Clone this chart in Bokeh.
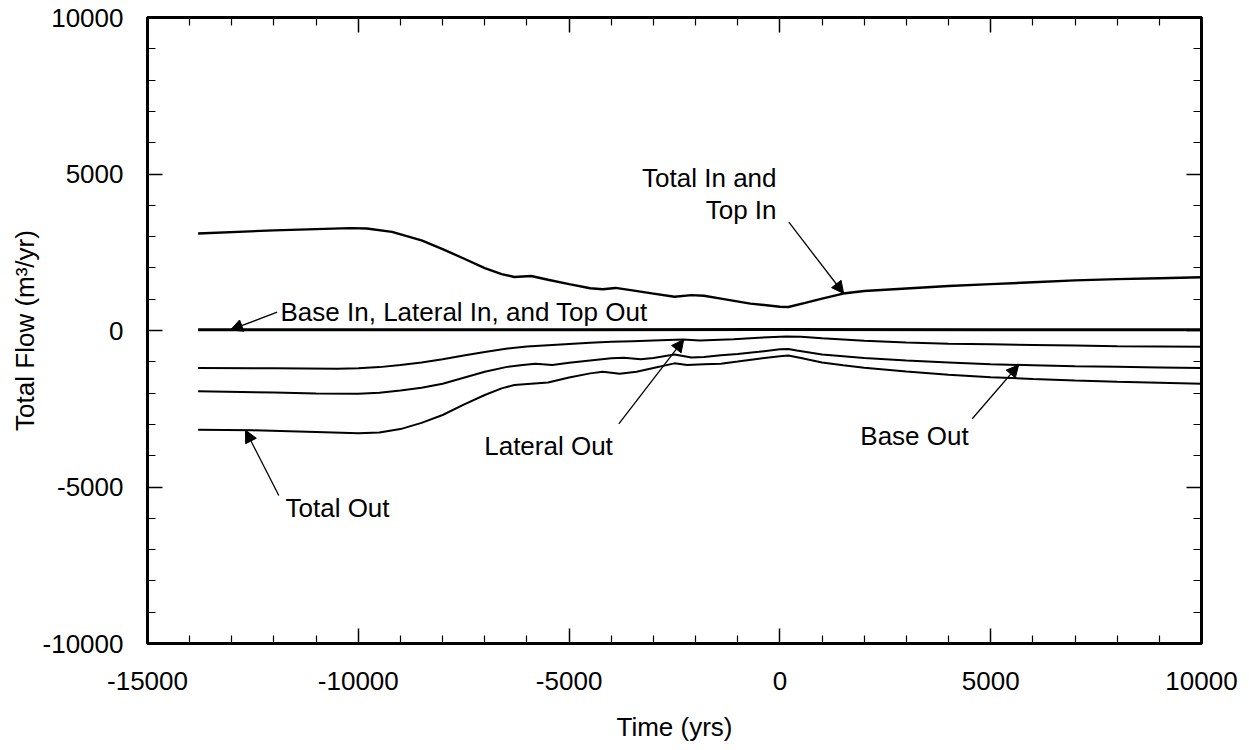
import numpy as np
from bokeh.plotting import figure
from bokeh.models import (Range1d, FixedTicker, LinearAxis, Label, Arrow, NormalHead,
                          CustomJSTickFormatter)
from bokeh.embed import file_html
from bokeh.resources import INLINE

# ---------------- data ----------------
t_in = [-13800, -12000, -11000, -10200, -9800, -9200, -8500, -8000, -7500, -7000,
        -6600, -6300, -5900, -5500, -5000, -4500, -4200, -3900, -3500, -3000,
        -2500, -2100, -1800, -1400, -700, 0, 200, 600, 1000, 1500,
        2000, 3000, 4000, 5000, 6000, 7000, 8000, 9000, 10000]
total_in = [3100, 3200, 3240, 3270, 3260, 3150, 2880, 2600, 2300, 1990,
            1800, 1710, 1740, 1620, 1480, 1350, 1320, 1360, 1280, 1180,
            1080, 1130, 1110, 1020, 860, 760, 750, 880, 1020, 1180,
            1260, 1340, 1420, 1480, 1540, 1600, 1640, 1670, 1700]

t_zero = [-13800, -10000, -5000, 0, 5000, 10000]
base_lat_in_top_out = [20, 20, 25, 30, 25, 20]

t_lat = [-13800, -12000, -10500, -10000, -9500, -9000, -8500, -8000, -7500, -7000,
         -6500, -6000, -5500, -5000, -4500, -4000, -3500, -3000, -2300, -1900,
         -1100, -500, 150, 500, 1000, 2000, 3000, 4000, 5000, 6000,
         7000, 8000, 9000, 10000]
lateral_out = [-1200, -1210, -1220, -1210, -1170, -1100, -1020, -920, -800, -690,
               -580, -510, -470, -430, -390, -360, -340, -320, -290, -320,
               -280, -230, -190, -200, -250, -330, -380, -420, -440, -460,
               -480, -500, -510, -520]

t_base = [-13800, -12000, -11000, -10000, -9500, -9000, -8500, -8000, -7500, -7000,
          -6500, -6100, -5800, -5400, -5000, -4500, -4000, -3700, -3300, -3000,
          -2500, -2100, -1800, -1400, -1000, -500, 0, 200, 400, 1000,
          2000, 3000, 4000, 5000, 6000, 7000, 8000, 9000, 10000]
base_out = [-1940, -1980, -2010, -2020, -1990, -1920, -1830, -1700, -1510, -1320,
            -1170, -1100, -1060, -1100, -1030, -960, -890, -870, -920, -880,
            -770, -860, -850, -790, -750, -680, -600, -590, -640, -770,
            -880, -960, -1020, -1080, -1110, -1140, -1160, -1180, -1200]

t_tot = [-13800, -12500, -11000, -10000, -9500, -9000, -8500, -8000, -7500, -7000,
         -6600, -6300, -5900, -5500, -5000, -4500, -4200, -3800, -3400, -3000,
         -2500, -2200, -1800, -1400, -1000, -500, 0, 200, 500, 1000,
         1500, 2000, 3000, 4000, 5000, 6000, 7000, 8000, 9000, 10000]
total_out = [-3170, -3190, -3240, -3280, -3260, -3150, -2950, -2700, -2370, -2060,
             -1850, -1740, -1700, -1660, -1500, -1370, -1320, -1380, -1320, -1200,
             -1050, -1100, -1080, -1060, -990, -900, -820, -800, -880, -1020,
             -1110, -1190, -1310, -1410, -1490, -1550, -1600, -1640, -1670, -1700]

x_ticks = [-15000, -10000, -5000, 0, 5000, 10000]
x_tick_labels = ["-15000", "-10000", "-5000", "0", "5000", "10000"]
y_ticks = [-10000, -5000, 0, 5000, 10000]
y_tick_labels = ["-10000", "-5000", "0", "5000", "10000"]

FONT = "Liberation Sans"
FS = "26px"

p = figure(width=1241, height=750, x_range=Range1d(-15000, 10000), y_range=Range1d(-10000, 10000),
           output_backend="svg", toolbar_location=None,
           min_border_left=147, min_border_right=40, min_border_top=17, min_border_bottom=107)
p.background_fill_color = "white"
p.border_fill_color = "white"
p.outline_line_color = "black"
p.outline_line_width = 3
p.xgrid.visible = False
p.ygrid.visible = False

x_minor = [v for v in range(-15000, 10001, 1000) if v not in x_ticks]
y_minor = [v for v in range(-10000, 10001, 1000) if v not in y_ticks]

def style_axis(ax, ticks, minor, labels, show_labels):
    ax.ticker = FixedTicker(ticks=ticks, minor_ticks=minor)
    ax.major_tick_in = 15
    ax.major_tick_out = 0
    ax.minor_tick_in = 8
    ax.minor_tick_out = 0
    ax.major_tick_line_width = 1.5
    ax.minor_tick_line_width = 1.2
    ax.major_tick_line_color = "black"
    ax.minor_tick_line_color = "black"
    ax.axis_line_width = 2.5
    ax.axis_line_color = "black"
    if show_labels:
        ax.major_label_overrides = {t: s for t, s in zip(ticks, labels)}
        ax.major_label_text_font = FONT
        ax.major_label_text_font_size = FS
        ax.major_label_text_color = "black"
        ax.axis_label_text_font = FONT
        ax.axis_label_text_font_size = FS
        ax.axis_label_text_font_style = "normal"
        ax.axis_label_text_color = "black"
    else:
        ax.formatter = CustomJSTickFormatter(code="return ''")
        ax.major_label_text_font_size = "8px"
        ax.major_label_standoff = 0

style_axis(p.xaxis[0], x_ticks, x_minor, x_tick_labels, True)
style_axis(p.yaxis[0], y_ticks, y_minor, y_tick_labels, True)
p.xaxis[0].major_label_standoff = 28
p.xaxis[0].axis_label = "Time (yrs)"
p.xaxis[0].axis_label_standoff = 19
p.yaxis[0].major_label_standoff = 24
p.yaxis[0].axis_label = "Total Flow (m\u00b3/yr)"
p.yaxis[0].axis_label_standoff = 0

top_ax = LinearAxis()
right_ax = LinearAxis()
style_axis(top_ax, x_ticks, x_minor, x_tick_labels, False)
style_axis(right_ax, y_ticks, y_minor, y_tick_labels, False)
p.add_layout(top_ax, "above")
p.add_layout(right_ax, "right")

# curves
p.line(t_in, total_in, line_color="black", line_width=2.4)
p.line(t_zero, base_lat_in_top_out, line_color="black", line_width=3)
p.line(t_lat, lateral_out, line_color="black", line_width=2)
p.line(t_base, base_out, line_color="black", line_width=2)
p.line(t_tot, total_out, line_color="black", line_width=2)

def lab(x, y, text, align="left"):
    p.add_layout(Label(x=x, y=y, text=text, text_font=FONT, text_font_size=FS,
                       text_color="black", text_align=align, text_baseline="middle"))

def arrow(x0, y0, tx, ty):
    p.add_layout(Arrow(end=NormalHead(size=12, fill_color="black", line_color="black", line_width=1),
                       x_start=x0, y_start=y0, x_end=tx, y_end=ty,
                       line_color="black", line_width=1.3))

# annotations (text positions are the vertical centres of the capitals)
lab(-11845, 594, "Base In, Lateral In, and Top Out")
tx = -13031
arrow(-11924, 585, tx, float(np.interp(tx, t_zero, base_lat_in_top_out)))

lab(-80, 4863, "Total In and", align="right")
lab(-80, 3837, "Top In", align="right")
tx = 1512
arrow(212, 3460, tx, float(np.interp(tx, t_in, total_in)))

lab(-5488, -3700, "Lateral Out", align="center")
tx = -2282
arrow(-3821, -2982, tx, float(np.interp(tx, t_lat, lateral_out)))

lab(3193, -3380, "Base Out", align="center")
tx = 5662
arrow(4562, -2821, tx, float(np.interp(tx, t_base, base_out)))

lab(-11727, -5655, "Total Out")
tx = -12675
arrow(-11886, -5272, tx, float(np.interp(tx, t_tot, total_out)))

open("out.html", "w").write(file_html(p, INLINE))
